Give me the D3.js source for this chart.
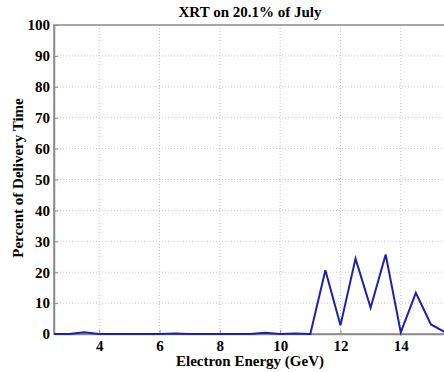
<!DOCTYPE html>
<html>
<head>
<meta charset="utf-8">
<script src="https://cdn.jsdelivr.net/npm/d3@7"></script>
<style>
  body { margin: 0; background: #fff; }
  svg { display: block; }
</style>
</head>
<body>
<div id="chart"></div>
<script>
// electron energy (GeV)
const energy = [2.5, 3, 3.5, 4, 4.5, 5, 5.5, 6, 6.5, 7, 7.5, 8, 8.5, 9, 9.5, 10, 10.5, 11, 11.5, 12, 12.5, 13, 13.5, 14, 14.5, 15, 15.5];
// percent of delivery time
const percent = [0, 0, 0.6, 0, 0, 0, 0, 0, 0.2, 0, 0, 0, 0, 0, 0.4, 0, 0.2, 0, 20.6, 2.8, 24.4, 8.5, 25.7, 0.5, 13.3, 3.1, 0.4];
const xTicks = [4, 6, 8, 10, 12, 14];
const yTicks = [0, 10, 20, 30, 40, 50, 60, 70, 80, 90, 100];

const FONT = 'Liberation Serif';

const W = 444, H = 372;
const margin = { top: 25, right: -2, bottom: 38, left: 54 };
const w = W - margin.left - margin.right;
const h = H - margin.top - margin.bottom;

const svg = d3.select('#chart').append('svg')
  .attr('width', W)
  .attr('height', H);

const g = svg.append('g')
  .attr('transform', `translate(${margin.left},${margin.top})`);

const x = d3.scaleLinear().domain([2.5, 15.5]).range([0, w]);
const y = d3.scaleLinear().domain([0, 100]).range([h, 0]);

// grid
g.append('g')
  .selectAll('line')
  .data(xTicks)
  .enter()
  .append('line')
  .attr('x1', d => x(d)).attr('x2', d => x(d))
  .attr('y1', 0).attr('y2', h)
  .attr('stroke', '#c8c8c8')
  .attr('stroke-dasharray', '1,2');

g.append('g')
  .selectAll('line')
  .data(yTicks.slice(1, -1))
  .enter()
  .append('line')
  .attr('x1', 0).attr('x2', w)
  .attr('y1', d => y(d)).attr('y2', d => y(d))
  .attr('stroke', '#c8c8c8')
  .attr('stroke-dasharray', '1,2');

// box
g.append('rect')
  .attr('x', 0).attr('y', 0)
  .attr('width', w).attr('height', h)
  .attr('fill', 'none')
  .attr('stroke', '#8a8a8a')
  .attr('stroke-width', 1.5);

// axes
const xAxis = g.append('g')
  .attr('transform', `translate(0,${h})`)
  .call(d3.axisBottom(x).tickValues(xTicks).tickSizeInner(-4).tickSizeOuter(0).tickPadding(6));
const yAxis = g.append('g')
  .call(d3.axisLeft(y).tickValues(yTicks).tickSizeInner(-4).tickSizeOuter(0).tickPadding(4));

[xAxis, yAxis].forEach(a => {
  a.attr('font-family', FONT).attr('font-size', 15).attr('font-weight', 'bold');
  a.select('.domain').attr('stroke', '#8a8a8a').attr('stroke-width', 1.5);
  a.selectAll('.tick line').attr('stroke', '#8a8a8a');
  a.selectAll('.tick text').attr('fill', '#000');
});

// line
const line = d3.line()
  .x((d, i) => x(energy[i]))
  .y(d => y(d));

g.append('path')
  .datum(percent)
  .attr('d', line)
  .attr('fill', 'none')
  .attr('stroke', '#1f1fb0')
  .attr('stroke-width', 2)
  .attr('stroke-linejoin', 'miter');

// title and labels
function label(sel) {
  return sel
    .attr('font-family', FONT)
    .attr('font-weight', 'bold')
    .attr('font-size', 15)
    .attr('fill', '#000')
    .attr('text-anchor', 'middle');
}

svg.append('text')
  .call(label)
  .attr('x', 250).attr('y', 17)
  .text('XRT on 20.1% of July');

svg.append('text')
  .call(label)
  .attr('x', 250).attr('y', 366)
  .text('Electron Energy (GeV)');

svg.append('text')
  .call(label)
  .attr('transform', 'translate(23,178) rotate(-90)')
  .text('Percent of Delivery Time');
</script>
</body>
</html>
